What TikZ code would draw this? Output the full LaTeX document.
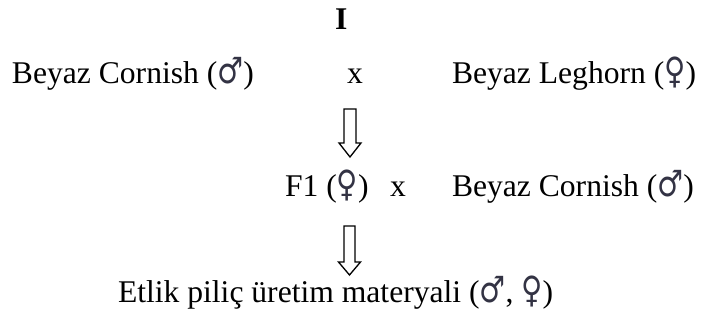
\documentclass[tikz,border=0pt]{standalone}
\usepackage{fontspec}
\usepackage{graphicx}
\setmainfont{Liberation Serif}
\newfontfamily\symfont[Color=333344]{DejaVu Sans}
\newcommand{\male}{\scalebox{0.92}[1.15]{\symfont ♂}}
\newcommand{\female}{\scalebox{0.92}[1.15]{\symfont ♀}}
\begin{document}
\begin{tikzpicture}[x=1pt,y=-1pt,
  lbl/.style={inner sep=0pt,outer sep=0pt,anchor=base west,font=\fontsize{31.6}{38}\selectfont},
  blockarrow/.style={draw=black,line width=1.3pt,line join=miter,fill=white}]
\useasboundingbox (0,0) rectangle (705,320);
\node[lbl,font=\fontsize{31.6}{38}\selectfont\bfseries] (title) at (335,30) {I};
\node[lbl] (bc1) at (12,84) {Beyaz Cornish (\male)};
\node[lbl] (x1) at (347,84) {x};
\node[lbl] (bl) at (452,84) {Beyaz Leghorn (\female)};
\node[lbl] (f1) at (285,197) {F1 (\female)};
\node[lbl] (x2) at (390,197) {x};
\node[lbl] (bc2) at (452,197) {Beyaz Cornish (\male)};
\node[lbl] (res) at (118,303) {Etlik piliç üretim materyali (\male, \female)};
\coordinate (a1) at (350,109);
\coordinate (a2) at (349.5,226);
\draw[blockarrow] (a1) ++(-6,0) -- ++(12,0) -- ++(0,34) -- ++(5,0) -- ++(-11,14) -- ++(-11,-14) -- ++(5,0) -- cycle;
\draw[blockarrow] (a2) ++(-5.5,0) -- ++(11,0) -- ++(0,36) -- ++(5.5,0) -- ++(-11,13) -- ++(-11,-13) -- ++(5.5,0) -- cycle;
\end{tikzpicture}
\end{document}
